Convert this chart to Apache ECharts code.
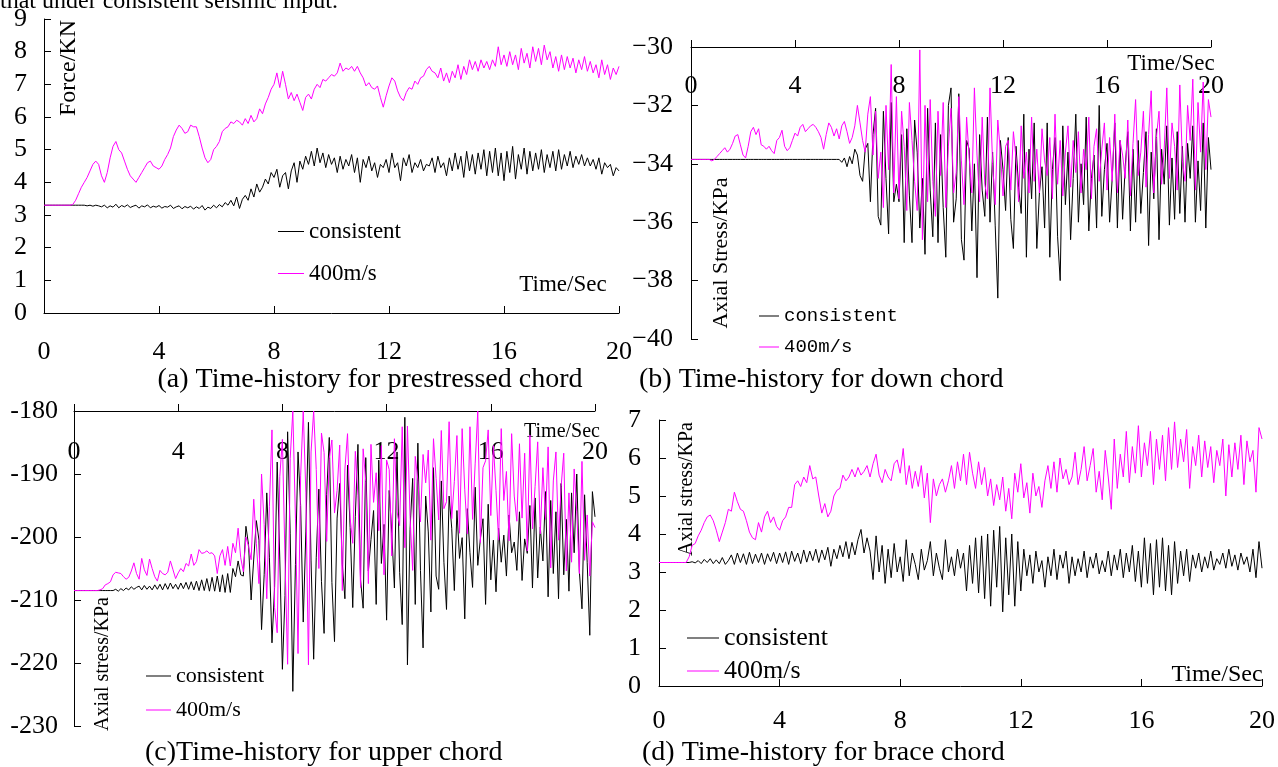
<!DOCTYPE html>
<html>
<head>
<meta charset="UTF-8">
<title>Time-history</title>
<script src="https://cdn.jsdelivr.net/npm/echarts@6/dist/echarts.min.js"></script>
<style>
html, body { margin: 0; padding: 0; background: #fff; }
#main { width: 1278px; height: 767px; }
</style>
</head>
<body>
<div id="main"></div>
<script>
// every series is sampled each 0.1 s from 0 to 20 s (201 values)
var step = 0.1;
var seriesNames = ['consistent', '400m/s'];

// (a) prestressed chord, Force/KN
var aConsistent = [
  3.3,3.3,3.3,3.3,3.3,3.3,3.3,3.3,3.3,3.3,
  3.3,3.3,3.3,3.3,3.3,3.28,3.3,3.27,3.3,3.28,
  3.25,3.3,3.22,3.28,3.24,3.33,3.22,3.29,3.25,3.31,
  3.23,3.27,3.3,3.21,3.28,3.25,3.31,3.22,3.27,3.24,
  3.29,3.21,3.26,3.24,3.3,3.2,3.25,3.28,3.19,3.26,
  3.22,3.27,3.18,3.25,3.2,3.29,3.15,3.24,3.2,3.3,
  3.22,3.32,3.25,3.38,3.3,3.45,3.28,3.55,3.2,3.48,
  3.6,3.45,3.8,3.55,3.95,3.7,3.85,4.1,3.95,4.3,
  4.15,4.4,3.85,4.2,4.3,3.8,4.35,4.6,4.0,4.65,
  4.4,4.8,4.55,4.95,4.5,5.05,4.6,4.9,4.45,4.85,
  4.55,4.75,4.3,4.8,4.4,4.7,4.5,4.85,4.3,4.75,
  4.0,4.7,4.45,4.8,4.35,4.6,4.15,4.55,4.45,4.7,
  4.3,4.9,4.45,4.6,4.05,4.75,4.5,4.85,4.3,4.6,
  4.45,4.7,4.35,4.55,4.5,4.75,4.3,4.8,4.45,4.6,
  4.2,4.75,4.35,4.9,4.4,4.8,4.15,4.95,4.35,4.85,
  4.25,4.9,4.4,5.0,4.2,4.95,4.3,5.05,4.2,4.9,
  4.05,4.95,4.3,5.1,4.1,4.85,4.4,5.05,4.25,4.95,
  4.35,4.9,4.4,5.0,4.3,4.85,4.45,4.95,4.35,5.0,
  4.4,4.85,4.5,4.95,4.45,4.8,4.55,4.85,4.5,4.75,
  4.5,4.7,4.4,4.75,4.25,4.6,4.45,4.55,4.2,4.45,
  4.35
];
var aFast = [
  3.3,3.3,3.3,3.3,3.3,3.3,3.3,3.3,3.3,3.3,
  3.32,3.45,3.65,3.85,4.0,4.15,4.35,4.55,4.65,4.55,
  4.2,4.0,4.3,4.75,5.1,5.25,5.0,4.9,4.65,4.4,
  4.2,4.1,4.0,4.15,4.3,4.45,4.6,4.65,4.5,4.45,
  4.4,4.5,4.7,4.85,5.05,5.4,5.6,5.75,5.65,5.5,
  5.55,5.75,5.7,5.7,5.4,5.05,4.75,4.6,4.7,5.0,
  5.1,5.25,5.55,5.65,5.7,5.85,5.8,5.9,5.85,5.75,
  5.95,5.8,6.05,5.85,5.95,6.25,6.1,6.4,6.6,6.85,
  7.0,7.35,6.9,7.4,7.0,6.55,6.75,6.5,6.7,6.45,
  6.2,6.6,6.7,6.55,6.85,7.0,6.9,7.15,7.1,7.2,
  7.3,7.25,7.35,7.65,7.4,7.5,7.45,7.55,7.4,7.55,
  7.35,7.2,6.95,7.05,6.9,6.85,6.95,6.6,6.3,6.65,
  6.95,7.2,7.1,6.8,6.6,6.5,6.75,6.9,6.85,7.1,
  7.0,7.2,7.25,7.45,7.55,7.4,7.35,7.2,7.5,7.1,
  7.35,7.05,7.4,7.2,7.6,7.15,7.55,7.3,7.75,7.45,
  7.7,7.4,7.75,7.5,7.7,7.45,7.75,7.55,8.15,7.6,
  7.9,7.55,8.0,7.6,7.9,7.45,8.1,7.65,7.95,7.5,
  8.15,7.7,8.1,7.6,8.2,7.75,8.0,7.5,7.85,7.4,
  7.9,7.45,7.85,7.5,7.8,7.35,7.75,7.45,7.85,7.4,
  7.7,7.35,7.6,7.2,7.75,7.3,7.6,7.15,7.5,7.3,
  7.55
];

// (b) down chord, Axial Stress/KPa
var bConsistent = [
  -33.85,-33.85,-33.85,-33.85,-33.85,-33.85,-33.85,-33.85,-33.85,-33.85,
  -33.85,-33.85,-33.85,-33.85,-33.85,-33.85,-33.85,-33.85,-33.85,-33.85,
  -33.85,-33.85,-33.85,-33.85,-33.85,-33.85,-33.85,-33.85,-33.85,-33.85,
  -33.85,-33.85,-33.85,-33.85,-33.85,-33.85,-33.85,-33.85,-33.85,-33.85,
  -33.85,-33.85,-33.85,-33.85,-33.85,-33.85,-33.85,-33.85,-33.85,-33.85,
  -33.85,-33.85,-33.85,-33.85,-33.85,-33.85,-33.85,-33.85,-33.95,-33.8,
  -34.1,-33.75,-34.0,-33.5,-33.7,-34.4,-34.6,-33.5,-33.3,-35.3,
  -33.0,-32.1,-35.8,-36.1,-32.2,-34.5,-36.4,-31.9,-35.3,-34.7,
  -35.3,-33.0,-36.7,-32.8,-35.1,-36.7,-32.5,-33.6,-36.2,-34.5,
  -37.1,-32.1,-34.9,-36.5,-32.6,-36.7,-33.0,-35.5,-37.2,-32.0,
  -31.4,-36.0,-35.2,-31.6,-36.6,-37.3,-33.2,-33.5,-36.3,-34.0,
  -37.9,-33.0,-34.9,-35.8,-32.4,-36.0,-33.6,-36.1,-38.6,-33.2,
  -34.2,-35.6,-33.1,-35.9,-36.9,-33.4,-34.8,-35.7,-32.3,-37.2,
  -33.5,-35.2,-32.6,-36.9,-35.0,-34.1,-36.2,-32.6,-37.2,-34.2,
  -33.1,-36.5,-38.0,-32.7,-35.4,-33.6,-36.6,-34.5,-32.3,-36.0,
  -34.0,-35.4,-32.4,-36.3,-34.5,-33.7,-36.2,-32.0,-35.8,-34.2,
  -33.3,-36.0,-34.5,-32.6,-36.2,-33.2,-35.9,-34.1,-32.9,-36.3,
  -33.5,-36.0,-33.2,-35.7,-34.3,-32.9,-36.8,-33.6,-35.2,-32.8,
  -36.6,-33.5,-34.7,-32.7,-36.1,-33.8,-35.9,-32.9,-35.7,-33.4,
  -36.0,-33.3,-34.5,-32.7,-36.0,-33.9,-35.6,-32.6,-36.2,-33.1,
  -34.2
];
var bFast = [
  -33.85,-33.85,-33.85,-33.85,-33.85,-33.85,-33.85,-33.85,-33.9,-33.85,
  -33.75,-33.65,-33.55,-33.45,-33.6,-33.5,-33.3,-33.05,-33.0,-33.35,
  -33.7,-33.8,-33.4,-32.9,-32.75,-33.0,-32.8,-33.35,-33.4,-33.5,
  -33.4,-33.55,-33.65,-33.2,-33.1,-32.85,-33.4,-33.55,-33.45,-33.2,
  -32.95,-33.05,-32.75,-32.65,-32.9,-32.8,-32.7,-32.65,-32.75,-32.9,
  -33.1,-33.5,-33.0,-32.6,-32.75,-33.05,-32.8,-33.15,-32.7,-32.55,
  -32.9,-33.3,-33.1,-32.7,-32.0,-32.6,-33.2,-33.6,-32.3,-31.7,
  -33.7,-32.2,-34.5,-33.6,-35.5,-32.0,-34.2,-30.6,-35.0,-31.7,
  -35.2,-32.2,-33.4,-35.6,-31.9,-33.2,-34.6,-35.6,-30.1,-36.6,
  -32.0,-35.3,-31.8,-34.6,-35.8,-32.2,-34.4,-31.9,-35.5,-33.4,
  -32.1,-35.0,-34.3,-31.7,-33.9,-35.4,-32.4,-33.8,-35.0,-31.4,
  -33.7,-35.3,-32.4,-34.7,-35.2,-31.4,-34.0,-35.4,-32.5,-33.6,
  -35.1,-33.4,-33.2,-34.9,-32.9,-33.8,-35.3,-32.7,-34.5,-33.6,
  -35.0,-32.4,-34.6,-33.5,-35.0,-32.8,-33.9,-34.4,-33.1,-35.2,
  -32.3,-34.7,-33.2,-35.1,-33.6,-32.7,-34.8,-33.2,-34.3,-32.9,
  -35.0,-33.5,-34.2,-32.4,-35.2,-33.4,-32.8,-34.6,-33.5,-32.6,
  -34.9,-33.1,-34.6,-32.3,-35.0,-33.2,-33.7,-34.5,-32.5,-35.1,
  -33.3,-31.8,-34.4,-33.6,-32.2,-34.8,-33.0,-31.5,-35.0,-33.1,
  -32.2,-34.7,-33.5,-31.4,-34.5,-32.6,-33.4,-34.9,-31.3,-33.9,
  -34.6,-32.0,-33.2,-31.1,-34.9,-31.9,-33.6,-31.2,-34.2,-31.8,
  -32.4
];

// (c) upper chord, Axial stress/KPa
var cConsistent = [
  -208.5,-208.5,-208.5,-208.5,-208.5,-208.5,-208.5,-208.5,-208.5,-208.5,
  -208.5,-208.5,-208.5,-208.5,-208.5,-208.5,-208.3,-208.6,-208.2,-208.5,
  -208.1,-208.4,-207.9,-208.3,-208.0,-207.8,-208.4,-207.7,-208.3,-207.8,
  -208.4,-207.6,-208.3,-207.5,-208.4,-207.4,-208.3,-207.3,-208.2,-207.5,
  -208.3,-207.3,-208.2,-207.2,-208.3,-207.1,-208.4,-207.0,-208.5,-206.8,
  -208.5,-206.6,-208.6,-206.4,-208.6,-206.2,-208.7,-206.0,-208.8,-205.8,
  -208.8,-205.0,-206.3,-203.8,-206.0,-206.2,-198.3,-201.2,-210.0,-203.5,
  -197.4,-200.5,-214.7,-206.0,-193.0,-203.2,-216.8,-208.0,-188.1,-203.5,
  -221.0,-209.3,-183.3,-199.5,-224.5,-204.4,-186.5,-195.0,-213.5,-199.2,
  -181.8,-203.8,-219.4,-203.2,-192.4,-207.1,-215.3,-193.3,-184.2,-207.2,
  -216.6,-197.0,-191.5,-204.3,-209.8,-188.6,-198.5,-211.2,-196.7,-185.3,
  -206.8,-211.3,-187.4,-205.4,-200.4,-195.8,-210.7,-187.8,-204.2,-198.0,
  -213.2,-192.6,-199.4,-208.1,-186.5,-205.6,-213.9,-181.0,-220.3,-198.8,
  -190.7,-210.7,-185.1,-205.3,-217.6,-193.5,-199.2,-211.9,-189.0,-206.2,
  -208.3,-191.1,-204.0,-211.5,-193.5,-198.6,-208.5,-195.8,-203.4,-200.1,
  -213.0,-195.5,-202.5,-208.0,-192.1,-204.5,-200.3,-197.1,-210.7,-194.8,
  -206.8,-200.5,-208.7,-198.6,-204.0,-199.7,-206.2,-196.5,-202.5,-200.8,
  -205.3,-196.0,-206.9,-200.3,-202.6,-195.0,-208.1,-193.8,-206.5,-198.4,
  -203.8,-192.8,-209.5,-194.2,-205.8,-196.0,-209.8,-191.5,-206.0,-197.2,
  -208.6,-193.0,-202.5,-190.0,-205.5,-211.4,-193.3,-204.0,-215.6,-192.8,
  -196.8
];
var cFast = [
  -208.5,-208.5,-208.5,-208.5,-208.5,-208.5,-208.5,-208.5,-208.5,-208.5,
  -208.4,-208.2,-207.6,-207.4,-207.1,-206.0,-205.6,-205.7,-205.8,-206.3,
  -206.7,-206.4,-205.4,-204.1,-205.8,-206.7,-203.4,-205.2,-206.1,-203.5,
  -205.0,-206.3,-207.0,-205.3,-205.8,-206.0,-205.6,-203.8,-205.2,-206.6,
  -205.7,-205.0,-205.5,-204.2,-204.6,-202.7,-204.5,-203.9,-202.0,-202.6,
  -202.5,-202.2,-202.6,-202.5,-203.0,-205.8,-203.0,-202.0,-204.5,-201.5,
  -204.6,-201.0,-202.5,-198.6,-203.3,-205.5,-200.0,-201.5,-203.6,-194.0,
  -201.0,-207.4,-190.0,-198.0,-209.8,-195.2,-183.0,-211.2,-215.2,-190.4,
  -184.5,-203.5,-220.2,-187.5,-180.0,-197.0,-218.5,-190.3,-180.0,-193.0,
  -220.3,-186.5,-180.0,-189.3,-205.0,-183.5,-186.6,-200.7,-187.5,-184.6,
  -196.2,-192.6,-185.4,-208.5,-189.2,-183.6,-197.0,-201.0,-186.4,-193.4,
  -208.0,-186.0,-191.2,-207.4,-185.3,-194.5,-189.8,-199.0,-185.5,-206.0,
  -187.8,-189.3,-203.0,-184.4,-196.0,-198.2,-182.5,-201.7,-182.4,-196.7,
  -205.3,-187.2,-191.0,-197.6,-186.9,-191.4,-186.2,-200.5,-184.4,-190.7,
  -197.3,-183.1,-195.5,-194.4,-181.7,-197.1,-191.2,-183.9,-199.4,-182.8,
  -192.5,-199.5,-182.5,-197.2,-188.4,-180.0,-200.9,-189.0,-187.9,-183.0,
  -196.6,-185.5,-192.6,-200.5,-182.8,-194.2,-189.6,-200.6,-183.6,-193.5,
  -197.5,-185.2,-197.0,-186.7,-202.2,-183.8,-198.7,-192.0,-184.9,-199.5,
  -189.0,-197.2,-185.7,-204.9,-191.1,-186.5,-200.5,-192.0,-186.7,-205.4,
  -193.0,-204.0,-189.2,-196.0,-205.8,-188.0,-203.7,-196.5,-206.2,-197.6,
  -198.5
];

// (d) brace chord, Axial stress/KPa
var dConsistent = [
  3.25,3.25,3.25,3.25,3.25,3.25,3.25,3.25,3.25,3.25,
  3.25,3.27,3.24,3.3,3.22,3.33,3.25,3.35,3.22,3.32,
  3.22,3.38,3.2,3.3,3.45,3.2,3.5,3.25,3.48,3.2,
  3.52,3.22,3.47,3.25,3.5,3.2,3.48,3.28,3.52,3.22,
  3.5,3.25,3.53,3.2,3.55,3.28,3.5,3.22,3.58,3.26,
  3.55,3.3,3.6,3.25,3.58,3.32,3.65,3.15,3.6,3.35,
  3.7,3.4,3.8,3.35,3.78,3.45,3.85,4.12,3.5,3.9,
  3.55,2.8,3.95,3.0,3.7,2.7,3.6,2.85,3.75,3.0,
  3.4,2.75,3.85,2.9,3.5,3.2,2.8,3.6,3.05,3.3,
  3.8,2.9,3.5,3.1,2.8,3.85,3.0,3.4,2.9,3.6,
  3.1,3.5,2.5,3.7,2.7,3.9,2.45,3.95,2.3,4.0,
  2.1,4.1,2.6,4.2,1.95,3.9,2.4,4.0,2.1,3.8,
  2.5,3.6,2.9,3.45,2.7,3.55,3.0,3.3,2.6,3.4,
  2.9,3.6,2.8,3.45,3.1,3.55,2.7,3.4,2.9,3.35,
  3.0,3.55,2.85,3.4,3.1,3.5,2.95,3.3,3.0,3.55,
  2.9,3.45,3.05,3.6,2.85,3.5,3.0,3.7,2.75,3.55,
  2.6,3.9,2.7,3.75,2.4,3.85,2.6,3.9,2.5,3.7,
  2.4,3.8,2.7,3.55,2.9,3.6,2.75,3.45,3.1,3.5,
  3.0,3.4,3.1,3.55,3.05,3.35,3.2,3.5,3.1,3.6,
  3.15,3.45,3.05,3.5,3.2,3.4,3.0,3.6,2.85,3.8,
  3.1
];
var dFast = [
  3.25,3.25,3.25,3.25,3.25,3.25,3.25,3.25,3.25,3.25,
  3.4,3.7,3.75,3.95,4.1,4.3,4.45,4.5,4.35,4.1,
  3.8,4.05,4.3,4.65,4.6,5.1,4.85,4.65,4.6,4.35,
  4.05,3.9,3.85,4.3,4.05,4.45,4.6,4.3,4.45,4.2,
  4.1,4.35,4.45,4.7,4.7,5.3,5.4,5.25,5.5,5.35,
  5.8,5.45,5.5,5.0,4.55,4.8,4.45,4.6,5.0,5.15,
  5.2,5.55,5.4,5.5,5.7,5.5,5.75,5.55,5.65,5.8,
  5.5,5.85,6.1,5.55,5.35,5.7,5.5,5.4,5.85,5.95,
  5.6,6.25,5.3,5.8,5.2,5.65,5.25,5.8,4.95,5.6,
  4.3,5.45,5.0,5.3,5.45,5.1,5.4,5.8,5.2,5.9,
  5.4,6.1,5.3,6.15,5.6,5.2,5.9,5.3,5.75,5.0,
  5.45,4.75,5.3,4.9,5.5,4.6,5.2,4.4,5.6,5.1,
  5.85,4.95,5.35,4.55,5.6,5.0,5.25,4.7,5.4,5.8,
  5.2,5.9,5.1,6.0,5.45,5.7,5.3,5.5,6.15,5.3,
  5.7,6.3,5.4,5.8,6.25,5.1,5.65,4.9,6.2,5.5,
  4.65,6.5,5.2,6.1,5.5,6.7,5.35,6.3,5.6,6.85,
  5.5,6.4,5.8,6.7,5.3,6.5,5.7,6.6,5.4,6.8,
  5.7,6.95,5.75,6.5,5.9,6.75,5.2,6.3,5.8,6.6,
  5.5,6.45,5.75,6.3,5.35,6.2,5.8,6.5,5.0,6.35,
  5.5,6.4,5.7,6.6,5.3,6.45,5.9,6.2,5.1,6.8,
  6.5
];

var serif = '"Liberation Serif", "Times New Roman", serif';
var mono = '"Liberation Mono", "DejaVu Sans Mono", monospace';
var tickSize = 26;

function pairs(vals) {
  return vals.map(function (v, i) {
    return [Math.round(i * step * 10) / 10, v];
  });
}

function minusSign(v) {
  return String(v).replace('-', '\u2212');
}

function xAx(gi, pos, labelInside, margin, tickInside) {
  return {
    type: 'value', gridIndex: gi, position: pos,
    min: 0, max: 20, interval: 4,
    axisLine: { show: true, onZero: false, lineStyle: { color: '#000', width: 1 } },
    axisTick: { show: true, inside: tickInside, length: 7, lineStyle: { color: '#000' } },
    axisLabel: { inside: labelInside, margin: margin, color: '#000', fontFamily: serif, fontSize: tickSize },
    splitLine: { show: false }
  };
}

function yAx(gi, min, max, interval, margin, fmt) {
  return {
    type: 'value', gridIndex: gi, min: min, max: max, interval: interval,
    axisLine: { show: true, onZero: false, lineStyle: { color: '#000', width: 1 } },
    axisTick: { show: true, inside: true, length: 7, lineStyle: { color: '#000' } },
    axisLabel: { margin: margin, color: '#000', fontFamily: serif, fontSize: tickSize, formatter: fmt },
    splitLine: { show: false }
  };
}

function line(name, gi, vals, color) {
  return {
    name: name, type: 'line', xAxisIndex: gi, yAxisIndex: gi,
    data: pairs(vals), symbol: 'none', showSymbol: false,
    color: color, lineStyle: { color: color, width: 1 },
    silent: true, animation: false
  };
}

// legend keys are plain strokes, so a 1px rect stands in for the line
function legendAt(left, top, w, gap, size, font) {
  return {
    data: seriesNames, orient: 'vertical', left: left, top: top,
    icon: 'rect', itemWidth: w, itemHeight: 1, itemGap: gap, padding: 0,
    textStyle: { color: '#000', fontFamily: font, fontSize: size, lineHeight: 20 },
    selectedMode: false
  };
}

function label(text, x, y, size, opts) {
  opts = opts || {};
  return {
    type: 'text', x: x, y: y, rotation: opts.rot || 0, silent: true,
    style: {
      text: text, fill: '#000',
      font: size + 'px ' + (opts.font || serif),
      textAlign: opts.align || 'center', textVerticalAlign: opts.valign || 'middle'
    }
  };
}

var chart = echarts.init(document.getElementById('main'));
var up = Math.PI / 2;

chart.setOption({
  backgroundColor: '#fff',
  animation: false,
  grid: [
    { left: 44, top: 19, width: 575, height: 294 },
    { left: 691, top: 47, width: 520, height: 292 },
    { left: 74, top: 411, width: 521, height: 315 },
    { left: 659, top: 420, width: 606, height: 266 }
  ],
  xAxis: [
    xAx(0, 'bottom', false, 26, true),
    xAx(1, 'top', true, 26, false),
    xAx(2, 'top', true, 28, false),
    xAx(3, 'bottom', false, 22, true)
  ],
  yAxis: [
    yAx(0, 0, 9, 1, 17),
    yAx(1, -40, -30, 2, 18, minusSign),
    yAx(2, -230, -180, 10, 16),
    yAx(3, 0, 7, 1, 18)
  ],
  legend: [
    legendAt(278, 220, 26, 19, 23, serif),
    legendAt(759, 306, 20, 11, 19, mono),
    legendAt(146, 665, 25, 12, 22, serif),
    legendAt(687, 625, 32, 7, 26, serif)
  ],
  series: [
    line('consistent', 0, aConsistent, '#000'),
    line('400m/s', 0, aFast, '#ff00ff'),
    line('consistent', 1, bConsistent, '#000'),
    line('400m/s', 1, bFast, '#ff00ff'),
    line('consistent', 2, cConsistent, '#000'),
    line('400m/s', 2, cFast, '#ff00ff'),
    line('consistent', 3, dConsistent, '#000'),
    line('400m/s', 3, dFast, '#ff00ff')
  ],
  graphic: [
    label('that under consistent seismic input.', 0, 14, 24, { align: 'left', valign: 'bottom' }),
    label('Force/KN', 69, 68, 24, { rot: up }),
    label('Axial Stress/KPa', 721, 253, 22, { rot: up }),
    label('Axial stress/KPa', 103, 664, 20, { rot: up }),
    label('Axial stress/KPa', 687, 489, 20, { rot: up }),
    label('Time/Sec', 563, 285, 23),
    label('Time/Sec', 1171, 64, 23),
    label('Time/Sec', 562, 432, 20),
    label('Time/Sec', 1217, 675, 24),
    label('(a) Time-history for prestressed chord', 370, 380, 28),
    label('(b) Time-history for down chord', 639, 380, 28, { align: 'left' }),
    label('(c)Time-history for upper chord', 145, 753, 28, { align: 'left' }),
    label('(d) Time-history for brace chord', 642, 753, 28, { align: 'left' })
  ]
});
</script>
</body>
</html>
